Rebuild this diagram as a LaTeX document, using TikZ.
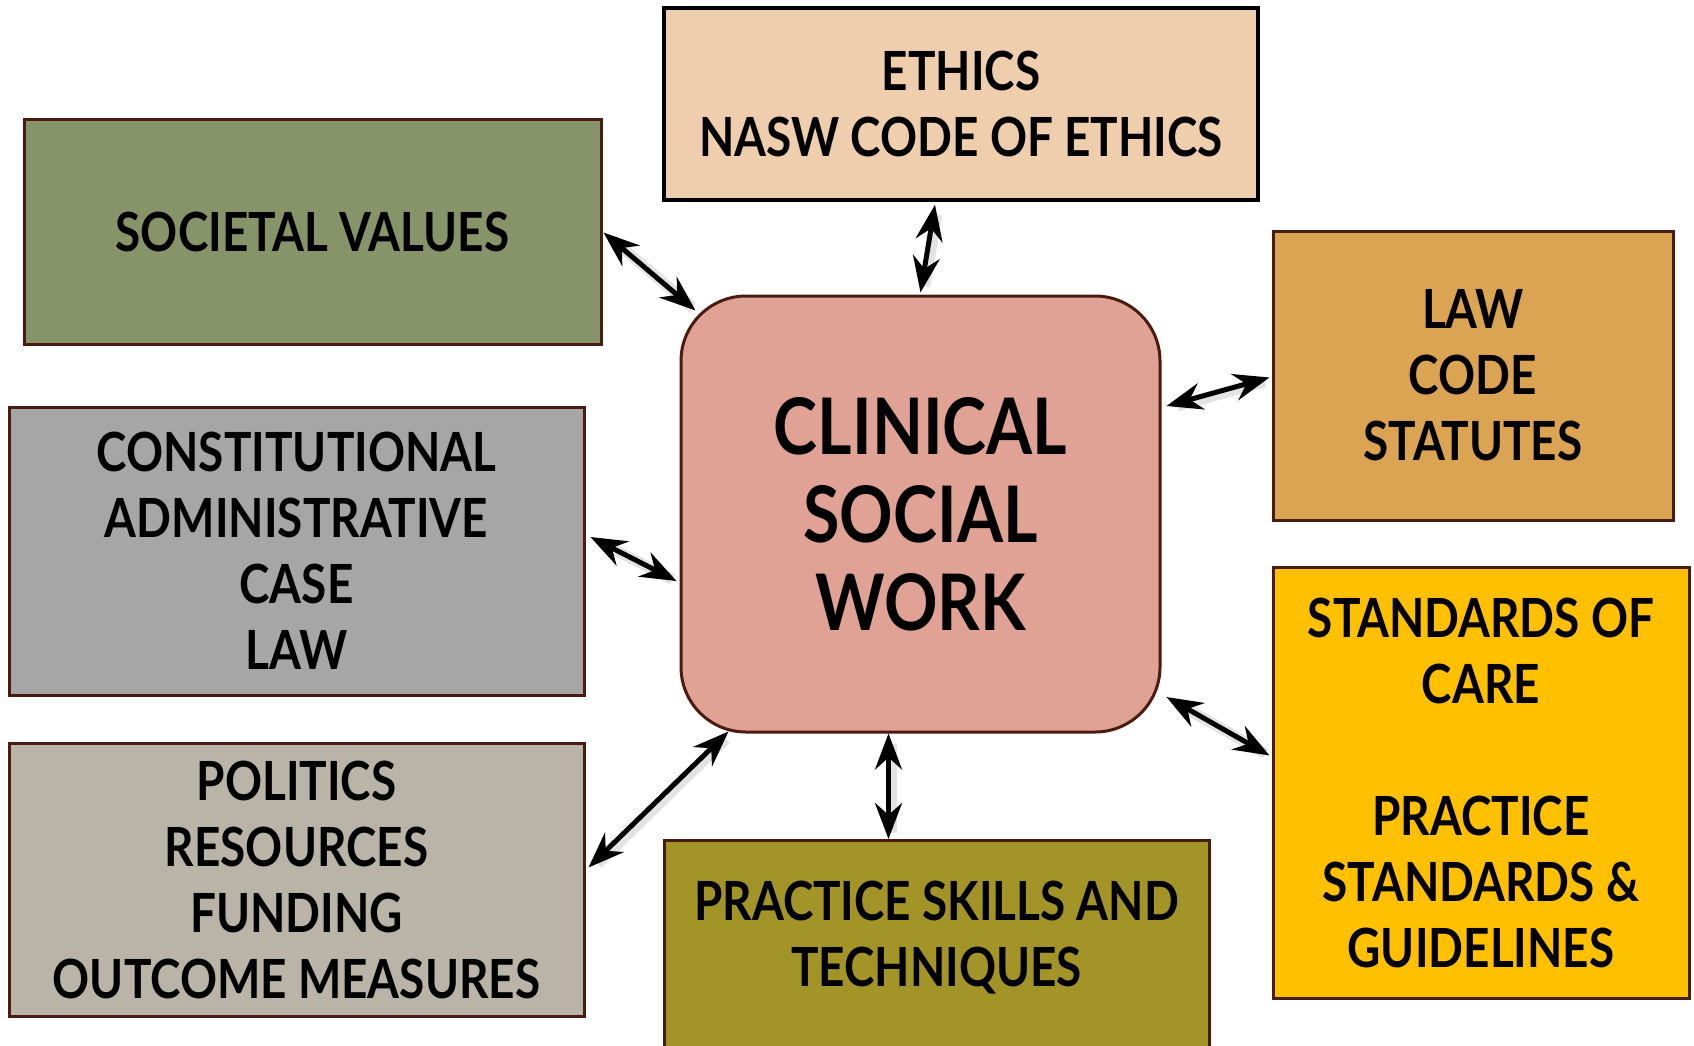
\documentclass[tikz,border=0pt]{standalone}
\usepackage{fontspec}
\setmainfont{Lato}[FakeStretch=0.85]
\usetikzlibrary{arrows.meta,calc}
\definecolor{edgebrown}{HTML}{4A1C0F}
\definecolor{ethfill}{HTML}{EFCEAD}
\definecolor{socfill}{HTML}{87946A}
\definecolor{lawfill}{HTML}{DBA453}
\definecolor{confill}{HTML}{A6A6A6}
\definecolor{stdfill}{HTML}{FFC000}
\definecolor{polfill}{HTML}{BAB4A8}
\definecolor{prafill}{HTML}{A39428}
\definecolor{cswfill}{HTML}{E0A294}
\tikzset{
  topic/.style={draw=edgebrown, line width=3pt, align=center, inner sep=0pt,
    font=\bfseries\fontsize{54}{66}\selectfont},
  hub/.style={draw=edgebrown, line width=3pt, rounded corners=65pt, align=center,
    inner sep=0pt, fill=cswfill, font=\bfseries\fontsize{78}{88}\selectfont},
  link/.style={{Stealth[length=36pt,width=27pt,inset=12pt]}-{Stealth[length=36pt,width=27pt,inset=12pt]},
    line width=5pt, black,
    preaction={draw=black!50, opacity=0.22, line width=11pt, shorten >=8pt, shorten <=8pt, -,
      transform canvas={xshift=3pt, yshift=-2pt}}},
}
\begin{document}
\begin{tikzpicture}[x=1pt,y=-1pt]
\useasboundingbox (0,0) rectangle (1694,1045);

% central hub
\node[hub, minimum width=479pt, minimum height=436pt] (csw) at (920.5,514) {CLINICAL\\SOCIAL\\WORK};

% surrounding topics
\node[topic, fill=ethfill, draw=black, line width=3.5pt, minimum width=594pt, minimum height=192pt] (eth) at (961,104)
  {ETHICS\\NASW CODE OF ETHICS};
\node[topic, fill=socfill, minimum width=577pt, minimum height=225pt] (soc) at (312.5,231.5) {SOCIETAL VALUES};
\node[topic, fill=lawfill, minimum width=400pt, minimum height=289pt] (law) at (1473,375.5) {LAW\\CODE\\STATUTES};
\node[topic, fill=confill, minimum width=575pt, minimum height=288pt] (con) at (296.5,551)
  {CONSTITUTIONAL\\ADMINISTRATIVE\\CASE\\LAW};
\node[topic, fill=polfill, minimum width=575pt, minimum height=273pt] (pol) at (296.5,879.5)
  {POLITICS\\RESOURCES\\FUNDING\\OUTCOME MEASURES};
\node[topic, fill=stdfill, minimum width=416pt, minimum height=431pt] (std) at (1481,782.5)
  {STANDARDS OF\\CARE\\[66pt]PRACTICE\\STANDARDS \&\\GUIDELINES};
\node[topic, fill=prafill, minimum width=545pt, minimum height=210pt, anchor=north] (pra) at (936.5,839) {};
\node[align=center, font=\bfseries\fontsize{54}{66}\selectfont] (pratext) at (936.5,938)
  {PRACTICE SKILLS AND\\TECHNIQUES};

% two-way links to the hub
\draw[link] ($(soc.east)+(1,1)$) -- ($(csw.north west)+(16,16)$);
\draw[link] ($(eth.south)+(-26,3)$) -- ($(csw.north)+(0,-2)$);
\draw[link] ($(law.west)+(-2,2)$) -- ($(csw.east)+(5,-108)$);
\draw[link] ($(con.east)+(5,-14)$) -- ($(csw.west)+(-3,67)$);
\draw[link] ($(pol.east)+(3,-12)$) -- ($(csw.south west)+(49,-2)$);
\draw[link] ($(pra.north)+(-48,0)$) -- ($(csw.south)+(-32,0)$);
\draw[link] ($(std.west)+(-2,-27)$) -- ($(csw.east)+(5,183)$);
\end{tikzpicture}
\end{document}
